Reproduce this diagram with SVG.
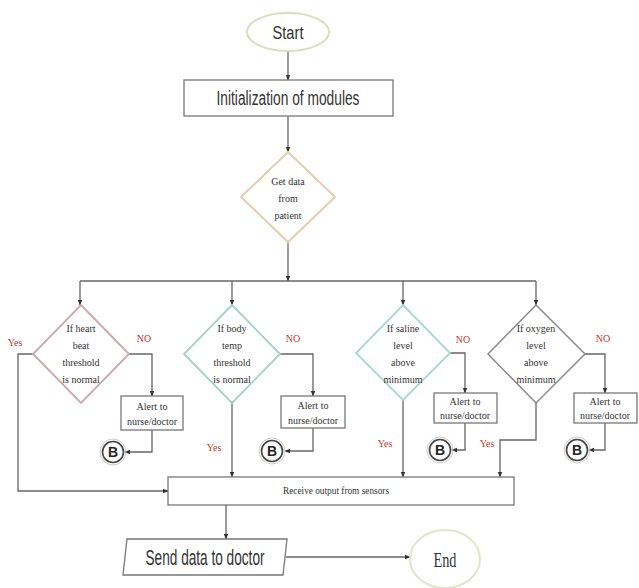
<svg xmlns="http://www.w3.org/2000/svg" width="639" height="588" viewBox="0 0 639 588">
<defs>
<marker id="ah" viewBox="0 0 10 10" refX="9" refY="5" markerWidth="6" markerHeight="6" orient="auto" markerUnits="userSpaceOnUse"><path d="M0,1 L10,5 L0,9 z" fill="#333"/></marker>
<style>
.c{fill:none;stroke:#666;stroke-width:1.3;marker-end:url(#ah)}
.cn{fill:none;stroke:#666;stroke-width:1.3}
.big{font-family:"Liberation Sans",Arial,sans-serif;fill:#333}
.sm{font-family:"Liberation Serif","Times New Roman",serif;font-size:10px;fill:#333;text-anchor:middle}
.lbl{font-family:"Liberation Serif","Times New Roman",serif;font-size:10px;fill:#c0392b;text-anchor:middle}
.box{fill:#fff;stroke:#777;stroke-width:1.3}
.b{fill:#fff;stroke:#444;stroke-width:1.6}
.bo{fill:none;stroke:#ccc;stroke-width:1}
.bt{font-family:"Liberation Sans",Arial,sans-serif;font-size:14px;font-weight:bold;fill:#222;text-anchor:middle}
</style>
</defs>
<rect width="639" height="588" fill="#fff"/>

<g id="connectors">
<line class="c" x1="288" y1="51" x2="288" y2="80"/>
<line class="c" x1="288" y1="116" x2="288" y2="152"/>
<line class="c" x1="288" y1="242" x2="288" y2="281"/>
<line class="cn" x1="80" y1="281" x2="536" y2="281"/>
<line class="c" x1="80" y1="281" x2="80" y2="305"/>
<line class="c" x1="232" y1="281" x2="232" y2="305"/>
<line class="c" x1="403" y1="281" x2="403" y2="305"/>
<line class="c" x1="536" y1="281" x2="536" y2="305"/>
<!-- NO branches -->
<polyline class="c" points="129,354 152,354 152,396"/>
<polyline class="c" points="280,354 313,354 313,396"/>
<polyline class="c" points="450,353 465,353 465,393"/>
<polyline class="c" points="585,354 605,354 605,393"/>
<!-- to B -->
<polyline class="c" points="152,430 152,452 125,452"/>
<polyline class="c" points="313,428 313,451 285,451"/>
<polyline class="c" points="465,423 465,450 452,450"/>
<polyline class="c" points="605,423 605,450 589,450"/>
<!-- Yes branches -->
<polyline class="c" points="33,354 18,354 18,491 168,491"/>
<line class="c" x1="232" y1="403" x2="232" y2="477"/>
<line class="c" x1="403" y1="400" x2="403" y2="477"/>
<polyline class="c" points="536,403 536,440 500,440 500,477"/>
<line class="c" x1="226" y1="505" x2="226" y2="539"/>
<line class="c" x1="286" y1="557" x2="410" y2="557"/>
</g>

<g id="start">
<ellipse cx="288" cy="32" rx="41" ry="19" fill="#fff" stroke="#dcdcc0" stroke-width="2"/>
<text class="big" x="288" y="39" font-size="18" text-anchor="middle" textLength="31" lengthAdjust="spacingAndGlyphs">Start</text>
</g>

<g id="init">
<rect class="box" x="184" y="80" width="209" height="36"/>
<text class="big" x="288" y="105" font-size="20" text-anchor="middle" textLength="143" lengthAdjust="spacingAndGlyphs">Initialization of modules</text>
</g>

<g id="getdata">
<polygon points="288,152 335,197 288,242 241,197" fill="#fff" stroke="#e3cfae" stroke-width="2"/>
<text class="sm" x="288" y="185">Get data</text>
<text class="sm" x="288" y="202">from</text>
<text class="sm" x="288" y="219">patient</text>
</g>

<g id="d1">
<polygon points="81,305 129,354 81,403 33,354" fill="#fff" stroke="#c9a9a9" stroke-width="1.8"/>
<text class="sm" x="81" y="332">If heart</text>
<text class="sm" x="81" y="349">beat</text>
<text class="sm" x="81" y="366">threshold</text>
<text class="sm" x="81" y="383">is normal</text>
</g>
<g id="d2">
<polygon points="232,305 280,354 232,403 184,354" fill="#fff" stroke="#9fd3c4" stroke-width="1.8"/>
<text class="sm" x="232" y="332">If body</text>
<text class="sm" x="232" y="349">temp</text>
<text class="sm" x="232" y="366">threshold</text>
<text class="sm" x="232" y="383">is normal</text>
</g>
<g id="d3">
<polygon points="403,305 450,353 403,400 356,353" fill="#fff" stroke="#a3dbd3" stroke-width="1.8"/>
<text class="sm" x="403" y="332">If saline</text>
<text class="sm" x="403" y="349">level</text>
<text class="sm" x="403" y="366">above</text>
<text class="sm" x="403" y="383">minimum</text>
</g>
<g id="d4">
<polygon points="536,305 585,354 536,403 488,354" fill="#fff" stroke="#8a8a8a" stroke-width="1.5"/>
<text class="sm" x="536" y="332">If oxygen</text>
<text class="sm" x="536" y="349">level</text>
<text class="sm" x="536" y="366">above</text>
<text class="sm" x="536" y="383">minimum</text>
</g>

<g id="labels">
<text class="lbl" x="15" y="346">Yes</text>
<text class="lbl" x="144" y="342">NO</text>
<text class="lbl" x="293" y="342">NO</text>
<text class="lbl" x="463" y="343">NO</text>
<text class="lbl" x="603" y="342">NO</text>
<text class="lbl" x="214" y="451">Yes</text>
<text class="lbl" x="385" y="447">Yes</text>
<text class="lbl" x="487" y="447">Yes</text>
</g>

<g id="alert1">
<rect class="box" x="121" y="396" width="62" height="34"/>
<text class="sm" x="152" y="410">Alert to</text>
<text class="sm" x="152" y="425">nurse/doctor</text>
</g>
<g id="alert2">
<rect class="box" x="281" y="396" width="64" height="32"/>
<text class="sm" x="313" y="409">Alert to</text>
<text class="sm" x="313" y="424">nurse/doctor</text>
</g>
<g id="alert3">
<rect class="box" x="434" y="393" width="63" height="30"/>
<text class="sm" x="465" y="405">Alert to</text>
<text class="sm" x="465" y="419">nurse/doctor</text>
</g>
<g id="alert4">
<rect class="box" x="574" y="393" width="63" height="30"/>
<text class="sm" x="605" y="405">Alert to</text>
<text class="sm" x="605" y="419">nurse/doctor</text>
</g>

<g id="b1"><circle class="bo" cx="113" cy="452" r="13"/><circle class="b" cx="113" cy="452" r="10.5"/><text class="bt" x="113" y="457">B</text></g>
<g id="b2"><circle class="bo" cx="272" cy="451" r="13"/><circle class="b" cx="272" cy="451" r="10.5"/><text class="bt" x="272" y="456">B</text></g>
<g id="b3"><circle class="bo" cx="440" cy="450" r="13"/><circle class="b" cx="440" cy="450" r="10.5"/><text class="bt" x="440" y="455">B</text></g>
<g id="b4"><circle class="bo" cx="577" cy="450" r="13"/><circle class="b" cx="577" cy="450" r="10.5"/><text class="bt" x="577" y="455">B</text></g>

<g id="receive">
<rect class="box" x="168" y="477" width="346" height="28"/>
<text class="sm" x="336" y="494" font-size="9" textLength="106" lengthAdjust="spacingAndGlyphs">Receive output from sensors</text>
</g>

<g id="send">
<polygon points="127,539 287,539 283,575 123,575" fill="#fff" stroke="#777" stroke-width="1.3"/>
<text class="big" x="205" y="565" font-size="22" text-anchor="middle" textLength="119" lengthAdjust="spacingAndGlyphs">Send data to doctor</text>
</g>

<g id="end">
<ellipse cx="445" cy="559" rx="35" ry="29" fill="#fff" stroke="#e2e4c8" stroke-width="2"/>
<text x="445" y="567" font-family="Liberation Serif,serif" font-size="21" fill="#333" text-anchor="middle" textLength="23" lengthAdjust="spacingAndGlyphs">End</text>
</g>
</svg>
